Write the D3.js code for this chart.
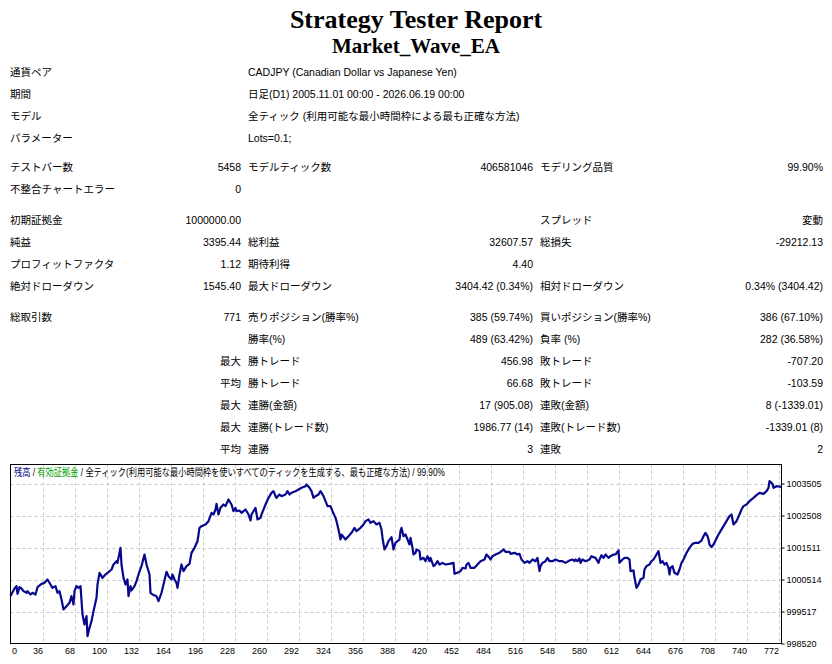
<!DOCTYPE html>
<html>
<head>
<meta charset="utf-8">
<script src="https://cdn.jsdelivr.net/npm/d3@7"></script>
<style>
  body { margin: 0; background: #fff; }
  svg { display: block; }
  text { font-family: "Liberation Sans", "Noto Sans CJK JP", sans-serif; fill: #000; }
</style>
</head>
<body>
<svg id="report" width="832" height="664"></svg>
<script>
// header block
const titleMain = "Strategy Tester Report";
const titleEa = "Market_Wave_EA";

const infoRows = [
  ["通貨ペア", "CADJPY (Canadian Dollar vs Japanese Yen)"],
  ["期間", "日足(D1) 2005.11.01 00:00 - 2026.06.19 00:00"],
  ["モデル", "全ティック (利用可能な最小時間枠による最も正確な方法)"],
  ["パラメーター", "Lots=0.1;"]
];

const statRows = [
  ["テストバー数", "5458", "モデルティック数", "406581046", "モデリング品質", "99.90%"],
  ["不整合チャートエラー", "0", "", "", "", ""],
  ["初期証拠金", "1000000.00", "", "", "スプレッド", "変動"],
  ["純益", "3395.44", "総利益", "32607.57", "総損失", "-29212.13"],
  ["プロフィットファクタ", "1.12", "期待利得", "4.40", "", ""],
  ["絶対ドローダウン", "1545.40", "最大ドローダウン", "3404.42 (0.34%)", "相対ドローダウン", "0.34% (3404.42)"],
  ["総取引数", "771", "売りポジション(勝率%)", "385 (59.74%)", "買いポジション(勝率%)", "386 (67.10%)"],
  ["", "", "勝率(%)", "489 (63.42%)", "負率 (%)", "282 (36.58%)"],
  ["", "最大", "勝トレード", "456.98", "敗トレード", "-707.20"],
  ["", "平均", "勝トレード", "66.68", "敗トレード", "-103.59"],
  ["", "最大", "連勝(金額)", "17 (905.08)", "連敗(金額)", "8 (-1339.01)"],
  ["", "最大", "連勝(トレード数)", "1986.77 (14)", "連敗(トレード数)", "-1339.01 (8)"],
  ["", "平均", "連勝", "3", "連敗", "2"]
];

// chart data: trade number and balance
const trades = [
  0,4,6,7,9,11,13,16,17,20,22,25,27,31,34,37,40,42,45,47,49,51,53,56,59,61,63,64,66,68,70,
  72,74,76,77,79,81,83,86,87,89,92,95,97,101,103,106,107,110,111,113,115,117,118,120,121,124,
  126,128,131,134,136,139,140,142,146,148,151,153,156,158,161,162,164,166,167,169,171,173,176,
  179,181,184,187,189,191,
  195,198,201,203,205,206,208,210,213,215,218,221,223,225,226,229,231,233,235,238,240,241,244,
  245,247,250,251,255,258,261,263,265,266,269,271,275,277,279,281,285,288,291,295,296,299,301,
  303,305,308,310,313,315,317,320,322,325,326,328,330,331,335,338,341,344,346,350,353,355,358,
  360,363,366,369,371,372,374,376,378,381,383,385,387,
  389,390,391,393,395,397,399,400,402,403,405,406,409,410,413,415,417,419,420,423,425,427,429,
  432,435,439,443,444,447,450,452,455,456,458,460,464,467,470,474,476,479,480,482,485,489,491,
  493,495,499,500,504,507,509,511,514,517,519,522,525,527,529,530,532,535,537,539,542,545,549,
  552,555,559,562,564,565,567,569,570,572,575,579,581,
  583,585,588,589,591,593,595,598,600,603,605,608,609,612,614,617,619,620,623,624,626,628,630,
  633,634,636,639,641,643,646,648,650,652,654,656,658,659,660,662,664,667,669,671,673,676,679,
  682,685,688,691,693,695,697,698,699,701,703,705,708,710,713,716,719,721,723,726,729,731,733,
  736,739,743,746,749,753,756,758,759,762,763,766,771
];

const balance = [
  1000000,1000234,1000307,1000068,1000275,1000234,1000151,1000099,1000151,1000047,1000099,1000047,
  1000275,1000379,1000410,1000514,1000358,1000255,1000307,1000099,1000151,999891,999580,999683,
  999787,999995,999735,1000151,1000307,1000255,1000307,
  999424,999112,999372,998749,999008,999216,999528,999943,1000358,1000722,1000566,1000670,1000722,
  1000826,1000982,1001085,1001033,1001501,1000982,1000566,1000358,1000514,999995,1000307,1000172,
  1000307,1000462,1000670,1000930,1001293,1000982,1000670,1000099,1000047,999995,999839,1000099,
  1000358,1000753,1000618,1000514,1000670,1000514,1000410,1000255,1000670,1000982,1000774,1000930,
  1001002,1001345,1001501,1001708,1002124,1002176,
  1002228,1002332,1002591,1002539,1002695,1002872,1002539,1002747,1002851,1002799,1003007,1002851,
  1002643,1002747,1002643,1002664,1002591,1002643,1002695,1002539,1002352,1002539,1002695,1002747,
  1002384,1002435,1002539,1002851,1003059,1003214,1003266,1003110,1003059,1003162,1003110,1003162,
  1003266,1003162,1003214,1003266,1003318,1003370,1003422,1003474,1003370,1003266,1003059,1003110,
  1003162,1003266,1003110,1002955,1002799,1002799,1002643,1002435,1002332,1002072,1001760,1001916,
  1001760,1001864,1001968,1002124,1002020,1002124,1002228,1002332,1002384,1002280,1002332,1002228,
  1002280,1002072,1001812,1001449,1001553,1001708,1001833,1001449,1001657,1001708,
  1001760,1002020,1002124,1001864,1001916,1001760,1001605,1001812,1001501,1001293,1001345,1001449,
  1001397,1001137,1001189,1001085,1001241,1001085,1001189,1000930,1000982,1001085,1000982,1001033,
  1000982,1001002,1001033,1000691,1000722,1000774,1000878,1000857,1000982,1001033,1000878,1000878,
  1000982,1001085,1001137,1001293,1001189,1001137,1001241,1001293,1001345,1001397,1001449,1001376,
  1001376,1001314,1001345,1001293,1001314,1001137,1001033,1001085,1001033,1001137,1001085,1001189,
  1000774,1000930,1001033,1001085,1001189,1001085,1001085,1001137,1001085,1001085,1001033,1001106,
  1001137,1001085,1001137,1001085,1001168,1001033,1001137,1001085,1001137,1001241,
  1001210,1001189,1001033,1001137,1001272,1001189,1001293,1001189,1001241,1001293,1001293,1001418,
  1001033,1001137,1001189,1001189,1001137,1000774,1000795,1000566,1000255,1000358,1000514,1000566,
  1000826,1000930,1000982,1001085,1001137,1001293,1001397,1001033,1001085,1000982,1001033,1000878,
  1000670,1000878,1000930,1000722,1000670,1000826,1001033,1001137,1001345,1001501,1001625,1001657,
  1001657,1001729,1001864,1001968,1001864,1001760,1001605,1001521,1001605,1001729,1001916,1002020,
  1002176,1002332,1002487,1002539,1002228,1002332,1002539,1002695,1002799,1002851,1002955,1003059,
  1003142,1003214,1003183,1003266,1003370,1003578,1003495,1003370,1003422,1003395
];

const yTicks = [998520, 999517, 1000514, 1001511, 1002508, 1003505];
const xTickLabels = ["0","36","68","100","132","164","196","228","260","292","324","356","388",
  "420","452","484","516","548","580","612","644","676","708","740","772"];
const legendParts = [
  ["残高", "#00008b"],
  [" / ", "#000"],
  ["有効証拠金", "#00a000"],
  [" / 全ティック(利用可能な最小時間枠を使いすべてのティックを生成する、最も正確な方法) / 99.90%", "#000"]
];

const svg = d3.select("#report");

// titles
svg.append("text")
  .attr("x", 416).attr("y", 28)
  .attr("text-anchor", "middle")
  .style("font-family", "'Liberation Serif', serif")
  .style("font-weight", "bold")
  .style("font-size", "26px")
  .text(titleMain);
svg.append("text")
  .attr("x", 416).attr("y", 53)
  .attr("text-anchor", "middle")
  .style("font-family", "'Liberation Serif', serif")
  .style("font-weight", "bold")
  .style("font-size", "21px")
  .text(titleEa);

// report table
const fontSize = "10.5px";
const labelX = [10, 248, 540];
const valueX = [241, 533, 823];
const infoY = [72, 94, 116, 138];
const statY = [167, 189, 220, 242, 264, 286, 317, 339, 361, 383, 405, 427, 449];

const info = svg.append("g").attr("id", "info");
infoRows.forEach((r, i) => {
  info.append("text").attr("x", labelX[0]).attr("y", infoY[i] + 4)
    .style("font-size", fontSize).text(r[0]);
  info.append("text").attr("x", labelX[1]).attr("y", infoY[i] + 4)
    .style("font-size", fontSize).text(r[1]);
});

const stats = svg.append("g").attr("id", "stats");
statRows.forEach((r, i) => {
  for (let c = 0; c < 3; c++) {
    if (r[c * 2]) {
      stats.append("text").attr("x", labelX[c]).attr("y", statY[i] + 4)
        .style("font-size", fontSize).text(r[c * 2]);
    }
    if (r[c * 2 + 1]) {
      stats.append("text").attr("x", valueX[c]).attr("y", statY[i] + 4)
        .attr("text-anchor", "end")
        .style("font-size", fontSize).text(r[c * 2 + 1]);
    }
  }
});

// balance chart
const plot = {left: 10.5, right: 781.5, top: 464.5, bottom: 643.5};
const x = d3.scaleLinear().domain([0, 771]).range([plot.left, plot.right]);
const y = d3.scaleLinear().domain([998520, 1004097]).range([plot.bottom, plot.top]);
const gridTrades = d3.range(0, 771, 32);

const chart = svg.append("g").attr("id", "chart");

chart.append("rect")
  .attr("x", plot.left).attr("y", plot.top)
  .attr("width", plot.right - plot.left).attr("height", plot.bottom - plot.top)
  .attr("fill", "#fff");

chart.append("g")
  .selectAll("line")
  .data(gridTrades.slice(1)).enter()
  .append("line")
  .attr("x1", d => Math.round(x(d)) + 0.5).attr("x2", d => Math.round(x(d)) + 0.5)
  .attr("y1", plot.top).attr("y2", plot.bottom)
  .attr("stroke", "#c8c8c8").attr("stroke-dasharray", "3,3");

chart.append("g")
  .selectAll("line")
  .data(yTicks.slice(1)).enter()
  .append("line")
  .attr("x1", plot.left).attr("x2", plot.right)
  .attr("y1", d => Math.round(y(d)) + 0.5).attr("y2", d => Math.round(y(d)) + 0.5)
  .attr("stroke", "#c8c8c8").attr("stroke-dasharray", "3,3");

const points = trades.map((t, i) => ({t: t, b: balance[i]}));
const balanceLine = d3.line().x(d => x(d.t)).y(d => y(d.b));

chart.append("path")
  .datum(points)
  .attr("d", balanceLine)
  .attr("fill", "none")
  .attr("stroke", "#08088f")
  .attr("stroke-width", 2.2)
  .attr("stroke-linejoin", "round");

chart.append("rect")
  .attr("x", plot.left).attr("y", plot.top)
  .attr("width", plot.right - plot.left).attr("height", plot.bottom - plot.top)
  .attr("fill", "none").attr("stroke", "#000");

// right axis
const yAxis = chart.append("g")
  .attr("transform", `translate(${plot.right},0)`)
  .call(d3.axisRight(y).tickValues(yTicks).tickSize(3).tickPadding(2).tickFormat(d3.format("d")));
yAxis.select(".domain").remove();
yAxis.selectAll("text").style("font-size", "9px").style("font-family", "'Liberation Sans', sans-serif");

// bottom axis, labels end at their grid line
const xAxis = chart.append("g")
  .attr("transform", `translate(0,${plot.bottom})`)
  .call(d3.axisBottom(x).tickValues(gridTrades).tickSize(0).tickPadding(4)
    .tickFormat((d, i) => xTickLabels[i]));
xAxis.select(".domain").remove();
xAxis.selectAll("text")
  .style("font-size", "9px").style("font-family", "'Liberation Sans', sans-serif")
  .attr("text-anchor", (d, i) => i === 0 ? "start" : "end")
  .attr("dx", (d, i) => i === 0 ? 1 : 0);

// legend line inside the chart: pieces laid end to end, then squeezed to the reference width
const legend = chart.append("g");
let cursor = 0;
legendParts.forEach(p => {
  const t = legend.append("text")
    .attr("x", cursor).attr("y", 0)
    .style("font-size", "10px")
    .style("fill", p[1])
    .attr("xml:space", "preserve")
    .style("white-space", "pre")
    .text(p[0]);
  cursor += t.node().getComputedTextLength();
});
legend.attr("transform", `translate(14,476) scale(${431 / cursor},1)`);
</script>
</body>
</html>
